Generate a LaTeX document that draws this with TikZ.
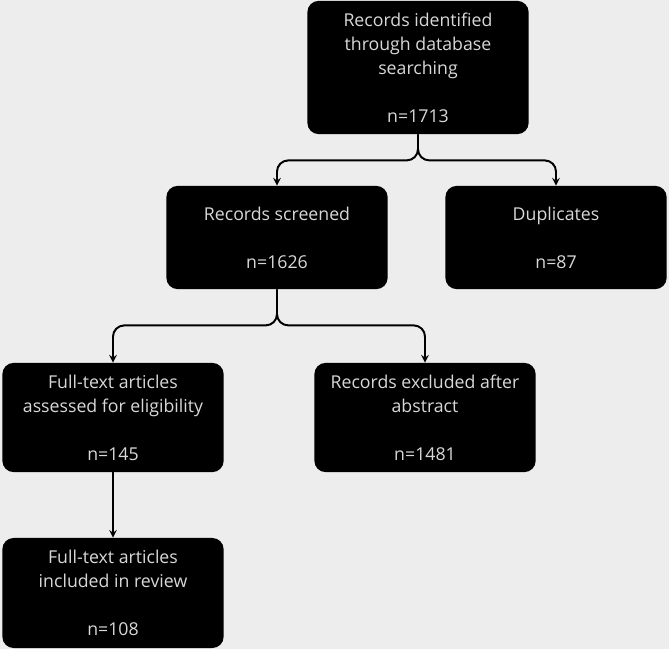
\documentclass[tikz,border=0pt]{standalone}
\usepackage{fontspec}
\setmainfont{Open Sans}
\usetikzlibrary{positioning}

\definecolor{paper}{HTML}{EDEDED}
\definecolor{boxtext}{HTML}{D8D8D8}

\tikzset{
    flowbox/.style={fill=black, text=boxtext, rounded corners=8pt,
        minimum width=5.53cm, inner sep=0pt, align=center,
        font=\fontsize{12.6}{17}\selectfont},
    flowline/.style={->, line width=1.4pt, rounded corners=8pt},
}

\begin{document}
\begin{tikzpicture}[x=0.025cm, y=-0.025cm, >=stealth]
    % page background
    \fill[paper] (0,0) rectangle (669,649);
    \useasboundingbox (0,0) rectangle (669,649);

    \node[flowbox, minimum height=3.33cm] (found) at (418,67.5)
        {Records identified\\through database\\searching\\[17pt]n=1713};
    \node[flowbox, minimum height=2.58cm] (screened) at (277,237.5)
        {Records screened\\[17pt]n=1626};
    \node[flowbox, minimum height=2.58cm] (dupes) at (556,237.5)
        {Duplicates\\[17pt]n=87};
    \node[flowbox, minimum height=2.73cm] (assessed) at (113,417.5)
        {Full-text articles\\assessed for eligibility\\[17pt]n=145};
    \node[flowbox, minimum height=2.73cm] (excluded) at (425,417.5)
        {Records excluded after\\abstract\\[17pt]n=1481};
    \node[flowbox, minimum height=2.75cm] (included) at (113,593)
        {Full-text articles\\included in review\\[17pt]n=108};

    % split after the search
    \draw[flowline] (found.south) -- ++(0,26) -| (screened.north);
    \draw[flowline] (found.south) -- ++(0,26) -| (dupes.north);

    % split after screening
    \draw[flowline] (screened.south) -- ++(0,36) -| (assessed.north);
    \draw[flowline] (screened.south) -- ++(0,36) -| (excluded.north);

    \draw[flowline] (assessed) -- (included);
\end{tikzpicture}
\end{document}
